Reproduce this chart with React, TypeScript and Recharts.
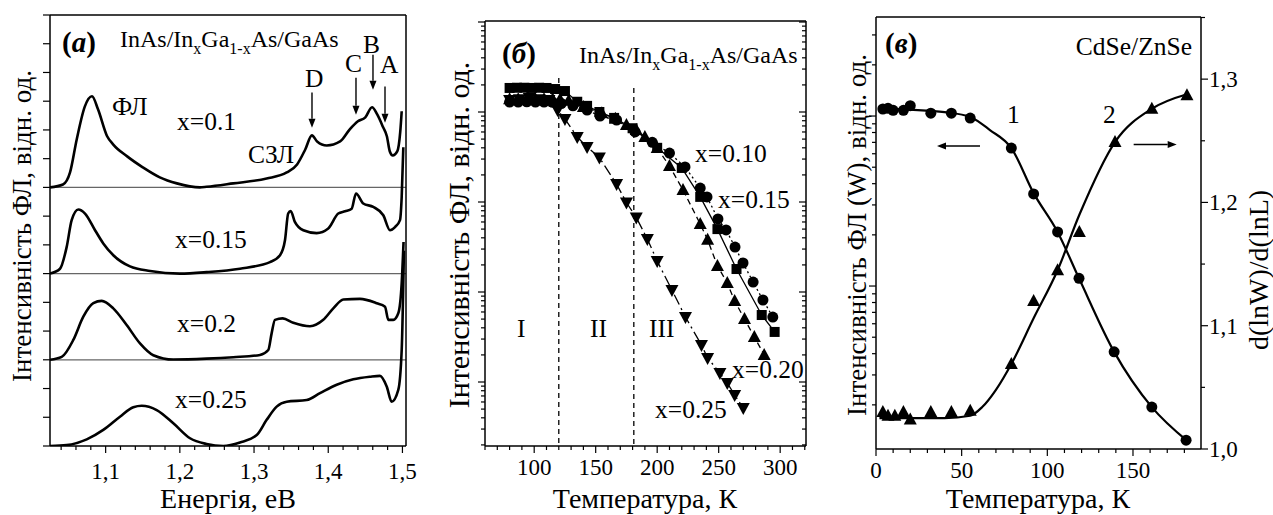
import React from "react";
import { LineChart, Line, XAxis, YAxis, ReferenceLine } from "recharts";

const SERIF = "Liberation Serif, DejaVu Serif, serif";
const W = 1273;
const H = 515;

// ---- (a) PL spectra: energy (eV) and intensity above each spectrum's own baseline
const e010 = [1.025, 1.0425, 1.052, 1.061, 1.072, 1.0816, 1.0897, 1.102, 1.11, 1.129, 1.15, 1.173, 1.196, 1.227, 1.236, 1.272, 1.317, 1.344, 1.358, 1.369, 1.378, 1.385, 1.398, 1.416, 1.429, 1.44, 1.45, 1.459, 1.466, 1.474, 1.479, 1.483, 1.487, 1.493, 1.497, 1.499];
const i010 = [0, 0.1, 0.52, 1.67, 2.82, 3.17, 2.72, 1.78, 1.5, 1.08, 0.7, 0.35, 0.14, 0, 0.02, 0.14, 0.31, 0.52, 0.8, 1.32, 1.81, 1.6, 1.46, 1.6, 2.02, 2.3, 2.44, 2.79, 2.54, 2.09, 1.78, 1.25, 1.11, 1.25, 1.92, 2.65];
const e015 = [1.025, 1.0385, 1.0475, 1.0542, 1.0632, 1.0722, 1.0857, 1.0968, 1.1103, 1.1328, 1.16, 1.2, 1.236, 1.281, 1.3215, 1.335, 1.3417, 1.346, 1.3494, 1.355, 1.3664, 1.3844, 1.4, 1.4135, 1.4226, 1.4316, 1.4374, 1.4472, 1.4607, 1.4742, 1.4832, 1.49, 1.4967, 1.499, 1.5012];
const i015 = [0, 0.17, 0.93, 1.86, 2.23, 2.09, 1.51, 1.05, 0.64, 0.25, 0.09, 0, 0.05, 0.17, 0.4, 0.64, 1.16, 2.09, 2.18, 1.8, 1.51, 1.41, 1.57, 2.09, 2.17, 2.26, 2.79, 2.44, 2.32, 2.03, 1.51, 1.62, 1.86, 2.67, 4.4];
const e020 = [1.025, 1.0408, 1.0564, 1.0699, 1.0834, 1.0947, 1.1103, 1.1283, 1.1463, 1.1642, 1.1912, 1.236, 1.272, 1.308, 1.3192, 1.3237, 1.3282, 1.3386, 1.3529, 1.3754, 1.3933, 1.4068, 1.4203, 1.4428, 1.4653, 1.4765, 1.481, 1.4877, 1.4944, 1.499, 1.5015];
const i020 = [0, 0.1, 0.69, 1.5, 1.97, 2.05, 1.79, 1.21, 0.57, 0.16, 0.01, 0.04, 0.09, 0.17, 0.34, 0.92, 1.39, 1.44, 1.29, 1.17, 1.39, 1.79, 2.1, 2.12, 1.97, 1.85, 1.39, 1.39, 1.62, 2.67, 4.1];
const e025 = [1.025, 1.0475, 1.0745, 1.0968, 1.1193, 1.1373, 1.1486, 1.1688, 1.1912, 1.2137, 1.236, 1.2586, 1.281, 1.3036, 1.317, 1.3305, 1.344, 1.371, 1.3889, 1.4114, 1.4338, 1.4563, 1.4697, 1.4788, 1.4855, 1.4944, 1.499, 1.502];
const i025 = [0, 0.03, 0.23, 0.56, 1.02, 1.35, 1.4, 1.25, 0.79, 0.27, 0.07, 0, 0.12, 0.38, 0.91, 1.37, 1.54, 1.6, 1.84, 2.13, 2.32, 2.41, 2.44, 2.07, 1.54, 1.95, 3.34, 6.8];
const baselines = [9, 6, 3, 0];

// ---- (б) integrated PL vs temperature, log scale
const tC10 = [80, 87, 94, 101, 108, 115, 122, 131.5, 143, 153.5, 167, 182, 196, 210, 222.6, 235, 240.5, 249.4, 256, 263.3, 269.8, 278, 286, 294];
const vC10 = [1.29, 1.29, 1.3, 1.29, 1.29, 1.28, 1.24, 1.17, 1.05, 0.9, 0.815, 0.6, 0.46, 0.35, 0.245, 0.143, 0.114, 0.0648, 0.0489, 0.0316, 0.021, 0.0129, 0.00815, 0.00527];
const tS15 = [80, 86, 92, 98, 104, 110, 117, 125, 135, 143, 153, 165, 180, 200, 220, 235, 249, 264.5, 285, 295.5];
const vS15 = [1.85, 1.86, 1.86, 1.85, 1.86, 1.85, 1.8, 1.71, 1.3, 1.17, 1.0, 0.86, 0.66, 0.4, 0.239, 0.114, 0.05, 0.018, 0.00555, 0.0036];
const tU20 = [80, 87, 94, 101, 108, 115, 121, 128, 140, 155, 166, 175, 183, 190, 200, 210, 221, 235, 241, 249, 257, 263, 271, 279, 287];
const vU20 = [1.39, 1.39, 1.4, 1.39, 1.39, 1.39, 1.38, 1.33, 1.14, 0.97, 0.84, 0.717, 0.631, 0.527, 0.398, 0.251, 0.136, 0.057, 0.038, 0.0195, 0.0126, 0.00794, 0.00501, 0.00316, 0.002];
const tD25 = [80, 88, 96, 104, 112, 119, 125, 135, 143, 153, 167, 175, 183, 192, 200, 212, 223, 236, 241, 251, 257, 263, 270];
const vD25 = [1.36, 1.39, 1.43, 1.39, 1.36, 1.05, 0.836, 0.527, 0.408, 0.312, 0.158, 0.0987, 0.0673, 0.0388, 0.0221, 0.0105, 0.00527, 0.00258, 0.00185, 0.00126, 0.000975, 0.000718, 0.000514];

// ---- (в) CdSe/ZnSe: W (left, log) and d(lnW)/d(lnL) (right)
const tW = [4, 7, 10, 16, 20, 32, 44, 55, 79, 92, 106, 118.5, 139, 161, 181];
const vW = [1.1, 1.11, 1.08, 1.08, 1.15, 1.04, 1.04, 0.973, 0.648, 0.348, 0.208, 0.111, 0.041, 0.0194, 0.0124];
const tK = [4, 7, 11, 16, 20, 32, 44, 55, 79, 92, 106, 118.7, 139.5, 161, 181.5];
const vK = [1.03, 1.027, 1.027, 1.03, 1.024, 1.03, 1.03, 1.031, 1.069, 1.12, 1.145, 1.176, 1.249, 1.276, 1.287];
const tFitW = [2, 20, 40, 55, 66.5, 79, 92, 106, 118.5, 139, 161, 182];
const vFitW = [1.107, 1.09, 1.055, 0.987, 0.827, 0.648, 0.352, 0.208, 0.111, 0.041, 0.0194, 0.0122];
const tFitK = [2, 20, 40, 55, 62, 70, 79, 92, 106, 118.7, 139.5, 161, 182];
const vFitK = [1.025, 1.025, 1.025, 1.027, 1.034, 1.048, 1.069, 1.106, 1.145, 1.19, 1.249, 1.276, 1.288];

const pts = (xs: number[], ys: number[], off = 0) => xs.map((x, i) => ({ x, y: ys[i] + off }));

const range = (a: number, b: number, step: number) => {
  const out: number[] = [];
  for (let k = 0; a + k * step <= b + 1e-9; k++) out.push(+(a + k * step).toFixed(6));
  return out;
};
const logTicks = (lo: number, hi: number) => {
  const out: number[] = [];
  for (let d = -5; d <= 2; d++) for (let m = 1; m <= 9; m++) {
    const v = +(m * Math.pow(10, d)).toPrecision(6);
    if (v >= lo && v <= hi) out.push(v);
  }
  return out;
};
const isDecade = (v: number) => Math.abs(Math.log10(v) - Math.round(Math.log10(v))) < 1e-6;
const comma = (v: number) => v.toFixed(1).replace(".", ",");

const txt: React.CSSProperties = { fontFamily: SERIF };
const TICK_FS = 23;

type Side = "bottom" | "top" | "left" | "right";
function tickFn(side: Side, major: (v: number) => boolean, fmt: ((v: number) => string) | null, inward = false, dy = 34) {
  return (p: any) => {
    const v = p.payload.value;
    const isMaj = major(v);
    const len = (isMaj ? 7 : 4) * (inward ? -1 : 1);
    const { x, y } = p;
    let l = { x1: x, y1: y, x2: x, y2: y };
    if (side === "bottom") l.y2 = y + len;
    if (side === "top") l.y2 = y - len;
    if (side === "left") l.x2 = x - len;
    if (side === "right") l.x2 = x + len;
    let label = null;
    if (fmt && isMaj) {
      if (side === "bottom")
        label = <text x={x} y={y + dy} textAnchor="middle" fontSize={TICK_FS} style={txt} fill="#000">{fmt(v)}</text>;
      if (side === "right")
        label = <text x={x + 8} y={y + 8} textAnchor="start" fontSize={TICK_FS} style={txt} fill="#000">{fmt(v)}</text>;
    }
    return (
      <g key={`${side}-${p.index}`}>
        <line {...l} stroke="#000" strokeWidth={1.2} />
        {label}
      </g>
    );
  };
}

const arrowShape = (p: any) => {
  const { x1, y1, x2, y2 } = p;
  const ang = Math.atan2(y2 - y1, x2 - x1);
  const L = 9, w = 3.5;
  const bx = x2 - L * Math.cos(ang), by = y2 - L * Math.sin(ang);
  const ox = -Math.sin(ang) * w, oy = Math.cos(ang) * w;
  return (
    <g>
      <line x1={x1} y1={y1} x2={bx} y2={by} stroke="#000" strokeWidth={1.4} />
      <polygon points={`${x2},${y2} ${bx + ox},${by + oy} ${bx - ox},${by - oy}`} fill="#000" />
    </g>
  );
};

function Marker({ cx, cy, kind }: { cx?: number; cy?: number; kind: string }) {
  if (cx == null || cy == null) return null;
  if (kind === "circle") return <circle cx={cx} cy={cy} r={5.5} fill="#000" />;
  if (kind === "square") return <rect x={cx - 5} y={cy - 5} width={10} height={10} fill="#000" />;
  if (kind === "up") return <polygon points={`${cx},${cy - 7} ${cx - 6.5},${cy + 5} ${cx + 6.5},${cy + 5}`} fill="#000" />;
  return <polygon points={`${cx},${cy + 7} ${cx - 6.5},${cy - 5} ${cx + 6.5},${cy - 5}`} fill="#000" />;
}
const dotOf = (kind: string) => (p: any) => <Marker key={`${kind}-${p.index}`} cx={p.cx} cy={p.cy} kind={kind} />;

const abs: React.CSSProperties = { position: "absolute", left: 0, top: 0 };
const axisLine = { stroke: "#000", strokeWidth: 1.5 };

// ---------- panel (a)
const A_DOM: [number, number] = [1.025, 1.5048];
function PanelA() {
  const xt = range(1.04, 1.5, 0.02);
  const maj = (v: number) => Math.abs(v * 10 - Math.round(v * 10)) < 1e-6;
  const yt = range(0, 15, 1);
  const series = [pts(e010, i010, baselines[0]), pts(e015, i015, baselines[1]), pts(e020, i020, baselines[2]), pts(e025, i025, baselines[3])];
  const arrows = [
    [1.3781, 12.3, 11.08],
    [1.4374, 12.82, 11.53],
    [1.4603, 13.62, 12.4],
    [1.4765, 12.51, 11.25],
  ];
  return (
    <div style={abs}>
      <LineChart width={W} height={H} margin={{ top: 5, left: 40, right: 857, bottom: 29 }}>
        <XAxis xAxisId="b" type="number" dataKey="x" domain={A_DOM} allowDataOverflow ticks={xt} interval={0} tickSize={0} tickMargin={0} height={40} axisLine={axisLine} tickLine={false} tick={tickFn("bottom", maj, comma, false, 33)} />
        <XAxis xAxisId="t" orientation="top" type="number" domain={A_DOM} allowDataOverflow ticks={xt} interval={0} tickSize={0} tickMargin={0} height={10} axisLine={axisLine} tickLine={false} tick={tickFn("top", maj, null, true)} />
        <YAxis yAxisId="l" type="number" domain={[0, 15]} allowDataOverflow ticks={yt} interval={0} tickSize={0} tickMargin={0} width={10} axisLine={axisLine} tickLine={false} tick={tickFn("left", () => true, null)} />
        <YAxis yAxisId="r" orientation="right" type="number" domain={[0, 15]} allowDataOverflow ticks={[]} width={10} axisLine={axisLine} tickLine={false} tick={false} />
        {[3, 6, 9].map((b) => (
          <ReferenceLine key={b} xAxisId="b" yAxisId="l" y={b} stroke="#666" strokeWidth={1.2} />
        ))}
        {arrows.map(([x, y1, y2], i) => (
          <ReferenceLine key={`ar${i}`} xAxisId="b" yAxisId="l" segment={[{ x, y: y1 }, { x, y: y2 }]} shape={arrowShape} />
        ))}
        {series.map((d, i) => (
          <Line key={i} xAxisId="b" yAxisId="l" data={d} dataKey="y" type="monotone" stroke="#000" strokeWidth={2.6} dot={false} activeDot={false} isAnimationActive={false} />
        ))}
      </LineChart>
    </div>
  );
}

// ---------- panel (б)
const B_DOM: [number, number] = [60, 321];
const B_Y: [number, number] = [1.945e-4, 10.26];
function PanelB() {
  const xt = range(60, 320, 10);
  const maj = (v: number) => v % 50 === 0;
  const yt = logTicks(B_Y[0], B_Y[1]);
  const sets = [
    { d: pts(tC10, vC10), kind: "circle", dash: "2 3" },
    { d: pts(tS15, vS15), kind: "square", dash: "" },
    { d: pts(tU20, vU20), kind: "up", dash: "6 4" },
    { d: pts(tD25, vD25), kind: "down", dash: "11 4 2 4" },
  ];
  return (
    <div style={abs}>
      <LineChart width={W} height={H} margin={{ top: 11, left: 475, right: 457, bottom: 29 }}>
        <XAxis xAxisId="b" type="number" dataKey="x" domain={B_DOM} allowDataOverflow ticks={xt} interval={0} tickSize={0} tickMargin={0} height={40} axisLine={axisLine} tickLine={false} tick={tickFn("bottom", maj, (v) => String(v), false, 29)} />
        <XAxis xAxisId="t" orientation="top" type="number" domain={B_DOM} allowDataOverflow ticks={xt} interval={0} tickSize={0} tickMargin={0} height={10} axisLine={axisLine} tickLine={false} tick={tickFn("top", maj, null, true)} />
        <YAxis yAxisId="l" type="number" scale="log" domain={B_Y} allowDataOverflow ticks={yt} interval={0} tickSize={0} tickMargin={0} width={10} axisLine={axisLine} tickLine={false} tick={tickFn("left", isDecade, null)} />
        <YAxis yAxisId="r" orientation="right" type="number" scale="log" domain={B_Y} allowDataOverflow ticks={yt} interval={0} tickSize={0} tickMargin={0} width={10} axisLine={axisLine} tickLine={false} tick={tickFn("right", isDecade, null, true)} />
        <ReferenceLine xAxisId="b" yAxisId="l" segment={[{ x: 120, y: 2.39 }, { x: 120, y: B_Y[0] }]} stroke="#000" strokeWidth={1.3} strokeDasharray="5 4" />
        <ReferenceLine xAxisId="b" yAxisId="l" segment={[{ x: 181, y: 1.85 }, { x: 181, y: B_Y[0] }]} stroke="#000" strokeWidth={1.3} strokeDasharray="5 4" />
        {sets.map((s, i) => (
          <Line key={i} xAxisId="b" yAxisId="l" data={s.d} dataKey="y" type="linear" stroke="#000" strokeWidth={1.3} strokeDasharray={s.dash || undefined} dot={dotOf(s.kind)} activeDot={false} isAnimationActive={false} />
        ))}
      </LineChart>
    </div>
  );
}

// ---------- panel (в)
const C_DOM: [number, number] = [0, 189.7];
const C_YL: [number, number] = [0.011, 3.824];
const C_YR: [number, number] = [1.0, 1.3504];
function PanelC() {
  const xt = range(0, 180, 10);
  const maj = (v: number) => v % 50 === 0;
  const ylt = logTicks(C_YL[0], C_YL[1]);
  const yrt = range(1.0, 1.35, 0.05);
  const majR = (v: number) => Math.abs(v * 10 - Math.round(v * 10)) < 1e-6;
  return (
    <div style={abs}>
      <LineChart width={W} height={H} margin={{ top: 7, left: 866, right: 62, bottom: 26 }}>
        <XAxis xAxisId="b" type="number" dataKey="x" domain={C_DOM} allowDataOverflow ticks={xt} interval={0} tickSize={0} tickMargin={0} height={40} axisLine={axisLine} tickLine={false} tick={tickFn("bottom", maj, (v) => String(v), false, 29)} />
        <XAxis xAxisId="t" orientation="top" type="number" domain={C_DOM} allowDataOverflow ticks={xt} interval={0} tickSize={0} tickMargin={0} height={10} axisLine={axisLine} tickLine={false} tick={tickFn("top", maj, null, true)} />
        <YAxis yAxisId="l" type="number" scale="log" domain={C_YL} allowDataOverflow ticks={ylt} interval={0} tickSize={0} tickMargin={0} width={10} axisLine={axisLine} tickLine={false} tick={tickFn("left", isDecade, null)} />
        <YAxis yAxisId="r" orientation="right" type="number" domain={C_YR} allowDataOverflow ticks={yrt} interval={0} tickSize={0} tickMargin={0} width={10} axisLine={axisLine} tickLine={false} tick={tickFn("right", majR, comma)} />
        <ReferenceLine xAxisId="b" yAxisId="l" segment={[{ x: 60.7, y: 0.667 }, { x: 35.6, y: 0.667 }]} shape={arrowShape} />
        <ReferenceLine xAxisId="b" yAxisId="r" segment={[{ x: 150.4, y: 1.247 }, { x: 175.5, y: 1.247 }]} shape={arrowShape} />
        <Line xAxisId="b" yAxisId="l" data={pts(tFitW, vFitW)} dataKey="y" type="monotone" stroke="#000" strokeWidth={2.2} dot={false} activeDot={false} isAnimationActive={false} />
        <Line xAxisId="b" yAxisId="r" data={pts(tFitK, vFitK)} dataKey="y" type="monotone" stroke="#000" strokeWidth={2.2} dot={false} activeDot={false} isAnimationActive={false} />
        <Line xAxisId="b" yAxisId="l" data={pts(tW, vW)} dataKey="y" stroke="none" dot={dotOf("circle")} activeDot={false} isAnimationActive={false} />
        <Line xAxisId="b" yAxisId="r" data={pts(tK, vK)} dataKey="y" stroke="none" dot={dotOf("up")} activeDot={false} isAnimationActive={false} />
      </LineChart>
    </div>
  );
}

function Sub({ children }: { children: React.ReactNode }) {
  return <tspan fontSize={16} dy={7}>{children}</tspan>;
}
function Title({ x, y }: { x: number; y: number }) {
  return (
    <text x={x} y={y} fontSize={24}>
      InAs/In<Sub>x</Sub><tspan dy={-7}>Ga</tspan><Sub>1-x</Sub><tspan dy={-7}>As/GaAs</tspan>
    </text>
  );
}
function PanelTag({ x, y, letter }: { x: number; y: number; letter: string }) {
  return (
    <text x={x} y={y} fontSize={29} fontWeight="bold">
      (<tspan fontStyle="italic">{letter}</tspan>)
    </text>
  );
}

const LB = 25.5; // in-plot label size
function Texts() {
  return (
    <svg width={W} height={H} style={{ ...abs, pointerEvents: "none", fontFamily: SERIF }} fill="#000">
      {/* (a) */}
      <PanelTag x={62} y={52} letter="а" />
      <Title x={120} y={47} />
      <text x={112} y={115} fontSize={LB}>ФЛ</text>
      <text x={177} y={130} fontSize={LB}>x=0.1</text>
      <text x={248} y={163} fontSize={LB}>СЗЛ</text>
      <text x={305} y={87} fontSize={LB}>D</text>
      <text x={345} y={72} fontSize={LB}>C</text>
      <text x={363} y={53} fontSize={LB}>B</text>
      <text x={380} y={73} fontSize={LB}>A</text>
      <text x={175} y={248} fontSize={LB}>x=0.15</text>
      <text x={177} y={332} fontSize={LB}>x=0.2</text>
      <text x={175} y={408} fontSize={LB}>x=0.25</text>
      <text x={228} y={508} fontSize={28} textAnchor="middle">Енергія, еВ</text>
      <text transform="translate(31,226) rotate(-90)" fontSize={27} textAnchor="middle">Інтенсивність ФЛ, відн. од.</text>

      {/* (б) */}
      <PanelTag x={502} y={63} letter="б" />
      <Title x={579} y={63} />
      <text x={695} y={162} fontSize={LB}>x=0.10</text>
      <text x={718} y={208} fontSize={LB}>x=0.15</text>
      <text x={732} y={378} fontSize={LB}>x=0.20</text>
      <text x={655} y={418} fontSize={LB}>x=0.25</text>
      <text x={517} y={337} fontSize={LB}>I</text>
      <text x={590} y={337} fontSize={LB}>II</text>
      <text x={649} y={337} fontSize={LB}>III</text>
      <text x={645} y={508} fontSize={28} textAnchor="middle">Температура, К</text>
      <text transform="translate(469,235) rotate(-90)" fontSize={30} textAnchor="middle">Інтенсивність ФЛ, відн. од.</text>

      {/* (в) */}
      <PanelTag x={885} y={53} letter="в" />
      <text x={1192} y={55} fontSize={LB} textAnchor="end">CdSe/ZnSe</text>
      <text x={1007} y={123} fontSize={LB}>1</text>
      <text x={1103} y={123} fontSize={LB}>2</text>
      <text x={1038} y={508} fontSize={28} textAnchor="middle">Температура, К</text>
      <text transform="translate(866,235) rotate(-90)" fontSize={27} textAnchor="middle">Інтенсивність ФЛ (W), відн. од.</text>
      <text transform="translate(1268,270) rotate(-90)" fontSize={28} textAnchor="middle">d(lnW)/d(lnL)</text>
    </svg>
  );
}

export default function App() {
  return (
    <div style={{ position: "fixed", left: 0, top: 0, width: W, height: H, background: "#fff", overflow: "hidden" }}>
      <PanelA />
      <PanelB />
      <PanelC />
      <Texts />
    </div>
  );
}
